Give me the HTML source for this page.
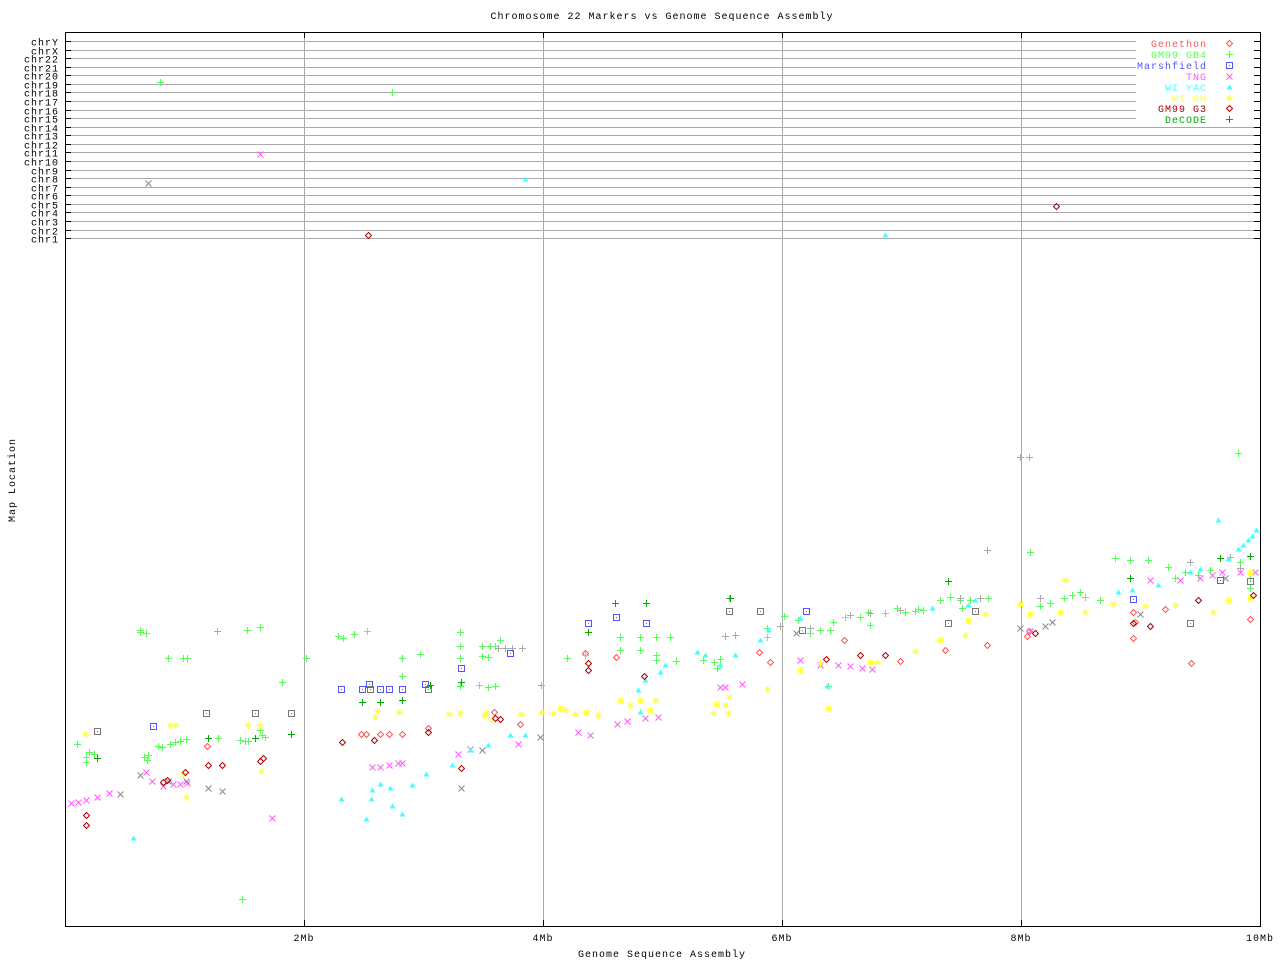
<!DOCTYPE html>
<html><head><meta charset="utf-8"><style>
html,body{margin:0;padding:0;background:#fff;}
svg{display:block;font-family:"Liberation Mono","DejaVu Sans Mono",monospace;letter-spacing:1px;}
</style></head><body>
<svg id="s" width="1280" height="960" xmlns="http://www.w3.org/2000/svg">
<rect width="1280" height="960" fill="#fff"/>
<text x="662" y="19" font-size="10" text-anchor="middle" fill="#000">Chromosome 22 Markers vs Genome Sequence Assembly</text>
<text x="662" y="957" font-size="10" text-anchor="middle" fill="#000">Genome Sequence Assembly</text>
<text transform="translate(15,480) rotate(-90)" font-size="10" text-anchor="middle" fill="#000">Map Location</text>
<g id="grid"></g>
<g id="pts"></g>
<g id="legend" font-size="10" text-anchor="end"></g>
<rect x="65.5" y="32.5" width="1195" height="894" fill="none" stroke="#000" stroke-width="1"/>
<g id="rt"></g>
</svg>
<script>
const NS="http://www.w3.org/2000/svg";
const grid=document.getElementById('grid'),pts=document.getElementById('pts'),lg=document.getElementById('legend'),rt=document.getElementById('rt');
function el(p,tag,a,txt){const e=document.createElementNS(NS,tag);for(const k in a)e.setAttribute(k,a[k]);if(txt)e.textContent=txt;p.appendChild(e);return e;}
const chrs=["chrY","chrX","chr22","chr21","chr20","chr19","chr18","chr17","chr16","chr15","chr14","chr13","chr12","chr11","chr10","chr9","chr8","chr7","chr6","chr5","chr4","chr3","chr2","chr1"];
chrs.forEach((c,i)=>{const y=Math.round(41+i*8.57)+0.5;
 el(grid,'line',{x1:65,x2:1260,y1:y,y2:y,stroke:'#aaa'});
 el(grid,'line',{x1:65,x2:71,y1:y,y2:y,stroke:'#000'});
 el(rt,'line',{x1:1254,x2:1260,y1:y,y2:y,stroke:'#000'});
 el(grid,'text',{x:59,y:y+4,'font-size':10,'text-anchor':'end',fill:'#000'},c);});
[[304,'2Mb'],[543,'4Mb'],[782,'6Mb'],[1021,'8Mb'],[1260,'10Mb']].forEach(([x,t])=>{
 if(x<1260){el(grid,'line',{x1:x+.5,x2:x+.5,y1:32,y2:926,stroke:'#aaa'});
 el(grid,'line',{x1:x+.5,x2:x+.5,y1:32,y2:38,stroke:'#000'});el(grid,'line',{x1:x+.5,x2:x+.5,y1:920,y2:926,stroke:'#000'});}
 el(grid,'text',{x:x,y:941,'font-size':10,'text-anchor':'middle',fill:'#000'},t);});
function mk(p,type,col,x,y){
 const s={stroke:col,fill:'none','stroke-width':1};
 if(type=='plus'){el(p,'path',Object.assign({d:`M${x-3} ${y+.5}h7M${x+.5} ${y-3}v7`},s));}
 else if(type=='x'){el(p,'path',Object.assign({d:`M${x-2.5} ${y-2.5}l6 6M${x+3.5} ${y-2.5}l-6 6`},s));}
 else if(type=='sq'){el(p,'rect',Object.assign({x:x-2.5,y:y-2.5,width:6,height:6},s));el(p,'rect',{x:x,y:y,width:1,height:1,fill:col});}
 else if(type=='dia'){el(p,'path',Object.assign({d:`M${x+.5} ${y-2.5}l3 3l-3 3l-3 -3z`},s));}
 else if(type=='tri'){el(p,'path',{d:`M${x+.5} ${y-2.5}l3 5h-6z`,fill:col});}
 else if(type=='ast'){el(p,'path',Object.assign({d:`M${x-3} ${y+.5}h7M${x+.5} ${y-3}v7M${x-2} ${y-2}l5 5M${x+3} ${y-2}l-5 5`},s));}
}
const series=[
['dia','#ff5555',[[207,746],[361,734],[366,734],[380,734],[389,734],[402,734],[428,728],[494,712],[520,724],[585,653],[616,657],[759,652],[844,640],[1029,631],[1135,622],[1165,609],[1250,619],[1027,636],[1133,638],[1191,663],[945,650],[987,645],[900,661],[770,662],[1133,612]]],
['plus','#55ff55',[[77,744],[86,757],[89,752],[86,762],[94,754],[140,632],[146,633],[140,630],[168,658],[183,658],[187,658],[144,757],[148,755],[147,760],[158,746],[162,747],[170,744],[175,742],[180,741],[186,739],[218,738],[240,740],[245,741],[248,741],[247,630],[260,627],[260,730],[262,735],[265,737],[282,682],[306,658],[338,636],[343,638],[354,634],[367,631],[402,658],[402,676],[460,646],[460,658],[482,646],[482,656],[488,657],[490,646],[495,646],[460,686],[479,685],[488,687],[495,686],[567,658],[585,655],[620,637],[640,637],[656,637],[670,637],[656,655],[656,660],[676,661],[703,660],[714,662],[720,659],[717,668],[767,628],[767,637],[784,616],[798,620],[810,633],[820,630],[830,630],[833,622],[845,617],[860,617],[868,612],[870,625],[885,613],[897,608],[905,612],[915,611],[918,609],[923,610],[940,600],[950,597],[960,600],[962,608],[970,600],[980,598],[988,598],[1030,552],[1020,604],[1040,606],[1050,603],[1064,598],[1072,595],[1080,592],[1085,597],[1100,600],[1115,558],[1130,560],[1148,560],[1168,567],[1175,578],[1185,572],[1198,575],[1210,570],[1238,453],[1240,562],[1250,578],[1250,588],[160,82],[392,92],[242,899],[460,632],[828,686],[420,654],[500,640],[620,650],[640,650]]],
['plus','#aaaaaa',[[217,631],[1020,457],[1029,457],[987,550],[725,636],[735,635],[780,626],[810,628],[850,615],[870,613],[900,610],[960,598],[980,598],[1040,598],[1190,562],[1230,557],[1240,568],[498,648],[505,648],[512,648],[522,648],[541,685],[729,598]]],
['sq','#5555ff',[[153,726],[341,689],[362,689],[369,684],[380,689],[389,689],[402,689],[425,684],[461,668],[510,653],[588,623],[616,617],[646,623],[806,611],[1133,599],[1220,580]]],
['sq','#777777',[[97,731],[206,713],[255,713],[291,713],[370,689],[428,689],[729,611],[760,611],[948,623],[975,611],[1190,623],[1250,581],[802,630]]],
['x','#ff55ff',[[71,803],[78,802],[86,800],[97,797],[109,793],[146,772],[152,781],[163,786],[173,784],[180,784],[187,783],[272,818],[372,767],[380,767],[389,765],[398,763],[402,763],[458,754],[470,749],[518,744],[578,732],[590,735],[617,724],[627,721],[645,718],[658,717],[720,687],[725,687],[742,684],[800,660],[820,665],[838,665],[850,666],[862,668],[872,669],[1030,631],[1150,580],[1180,580],[1200,578],[1212,575],[1222,572],[1240,572],[1255,572],[260,154]]],
['x','#888888',[[120,794],[140,775],[168,781],[186,781],[208,788],[222,791],[461,788],[482,750],[540,737],[796,633],[1020,628],[1045,626],[1052,622],[1140,614],[1225,578],[148,183]]],
['tri','#44ffff',[[133,838],[341,799],[366,819],[371,799],[372,790],[380,784],[390,788],[392,806],[402,814],[412,785],[426,774],[452,765],[470,750],[488,745],[510,735],[525,735],[640,712],[638,690],[645,680],[660,672],[665,665],[697,652],[705,655],[720,665],[735,655],[760,640],[768,630],[800,618],[932,608],[968,605],[975,600],[1118,592],[1132,590],[1158,585],[1190,572],[1200,569],[1218,520],[1228,559],[1238,549],[1243,545],[1248,540],[1252,536],[1256,530],[525,179],[885,235],[827,686]]],
['ast','#ffff44',[[85,734],[170,725],[175,725],[183,774],[186,797],[248,725],[260,725],[261,771],[375,717],[377,711],[399,712],[449,714],[460,713],[484,715],[491,719],[486,713],[521,714],[541,712],[553,713],[560,708],[565,710],[575,714],[586,712],[598,715],[620,700],[630,705],[640,700],[650,710],[655,700],[713,713],[716,704],[725,705],[728,713],[729,697],[767,689],[800,670],[820,663],[828,708],[870,662],[877,662],[915,651],[940,640],[965,635],[968,620],[985,614],[1020,604],[1030,614],[1065,580],[1060,612],[1085,612],[1113,604],[1145,606],[1175,605],[1213,612],[1228,600],[1250,598],[1250,572]]],
['dia','#aa0000',[[86,815],[86,825],[163,782],[167,780],[185,772],[208,765],[222,765],[260,761],[263,758],[342,742],[374,740],[428,732],[461,768],[495,718],[500,719],[588,670],[588,663],[826,659],[860,655],[885,655],[1035,633],[1133,623],[1198,600],[1253,595],[1150,626],[1056,206],[368,235],[644,676]]],
['plus','#00aa00',[[97,758],[208,738],[255,738],[291,734],[362,702],[380,702],[402,700],[430,685],[461,682],[588,632],[646,603],[1130,578],[1220,558],[1250,556],[948,581],[615,603],[730,598]]]
];
series.forEach(([t,c,a])=>a.forEach(([x,y])=>mk(pts,t,c,x,y)));
el(lg,'rect',{x:1136,y:36,width:118,height:90,fill:'#fff'});
const leg=[['Genethon','#ff5555','dia'],['GM99 GB4','#55ff55','plus'],['Marshfield','#5555ff','sq'],['TNG','#ff55ff','x'],['WI YAC','#44ffff','tri'],['WI RH','#ffff44','ast'],['GM99 G3','#aa0000','dia'],['DeCODE','#00aa00','plus']];
leg.forEach(([n,c,t],i)=>{const y=Math.round(43+i*10.9);
 el(lg,'text',{x:1207,y:y+4,fill:c},n);mk(lg,t,c,1229,y);});
</script>
</body></html>
